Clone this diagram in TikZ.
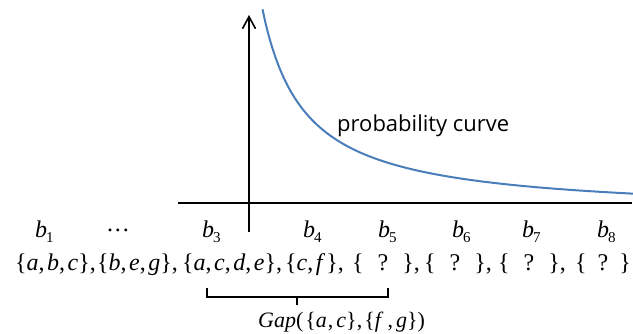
\documentclass[tikz,border=0pt]{standalone}
\usepackage{fontspec}
\setmainfont{Liberation Serif}
\newfontfamily\labelsans{Open Sans}
\usetikzlibrary{arrows.meta}
\definecolor{curveblue}{HTML}{4A7EBB}
\newcommand{\iv}[1]{\textit{#1}}
\newcommand{\cm}{,\kern2.5pt}
\newcommand{\qset}[1]{\{\hspace{#1}?\hspace{#1}\}}
\newcommand{\blab}[1]{\iv{b}\kern-1pt\raisebox{-5pt}{\fontsize{15}{15}\selectfont #1}}
\tikzset{
  axis/.style={line width=1.6pt, black},
  probcurve/.style={line width=2pt, curveblue},
  rowtxt/.style={anchor=base west, inner sep=0pt, font=\fontsize{24}{24}\selectfont},
  binlab/.style={anchor=base west, inner sep=0pt, font=\fontsize{24}{24}\selectfont},
  bracket/.style={line width=1.6pt, black},
  gaptxt/.style={anchor=base west, inner sep=0pt, font=\fontsize{22}{22}\selectfont},
  curvetxt/.style={anchor=base west, inner sep=0pt, font=\labelsans\fontsize{22}{22}\selectfont}
}
\begin{document}
\begin{tikzpicture}[x=1pt,y=-1pt]
\useasboundingbox (0,0) rectangle (633,334);
% axes
\coordinate (hl) at (178,203);
\coordinate (hr) at (632,203);
\coordinate (vb) at (249,232);
\coordinate (vt) at (249,15);
\draw[axis] (hl) -- (hr);
\draw[axis, -{Straight Barb[length=12pt,width=13pt,line width=1.6pt]}] (vb) -- (vt);
% curve
\draw[probcurve] plot[domain=262.5:633, samples=120, smooth] (\x, {214.8 - 8733/(\x-220)});
\node[curvetxt] (pc) at (337,132) {probability curve};
% bin labels
\node[binlab] (b1) at (35,238) {\blab{1}};
\node[anchor=center, inner sep=0pt, font=\fontsize{24}{24}\selectfont] (dots) at (118,230) {.\kern2pt.\kern2pt.};
\node[binlab] (b3) at (202,238) {\blab{3}};
\node[binlab] (b4) at (303,238) {\blab{4}};
\node[binlab] (b5) at (378,238) {\blab{5}};
\node[binlab] (b6) at (452,238) {\blab{6}};
\node[binlab] (b7) at (522,238) {\blab{7}};
\node[binlab] (b8) at (597,238) {\blab{8}};
% row of sets
\node[rowtxt] (s1) at (15,271) {\{\iv{a}\cm\iv{b}\cm\iv{c}\},};
\node[rowtxt] (s2) at (97,271) {\{\iv{b}\cm\iv{e}\cm\iv{g}\},};
\node[rowtxt] (s3) at (182,271) {\{\iv{a}\cm\iv{c}\cm\iv{d}\cm\iv{e}\},};
\node[rowtxt] (s4) at (285,271) {\{\iv{c}\cm\iv{f}\kern1pt\},};
\node[rowtxt] (s5) at (352,271) {\qset{14pt},};
\node[rowtxt] (s6) at (424,271) {\qset{14pt},};
\node[rowtxt] (s7) at (498,271) {\qset{14pt},};
\node[rowtxt] (s8) at (575,271) {\qset{11pt}};
% bracket
\coordinate (brl) at (207,288);
\coordinate (brr) at (388,288);
\coordinate (brm) at (297,297);
\coordinate (brt) at (297,305);
\draw[bracket] (brl) -- (brl |- brm) -- (brr |- brm) -- (brr);
\draw[bracket] (brm) -- (brt);
\node[gaptxt] (gap) at (258,327) {\iv{Gap}(\kern2pt\{\iv{a}\kern1pt,\kern3pt\iv{c}\},\kern2pt\{\iv{f}\kern4pt,\kern3pt\iv{g}\})};
\end{tikzpicture}
\end{document}
